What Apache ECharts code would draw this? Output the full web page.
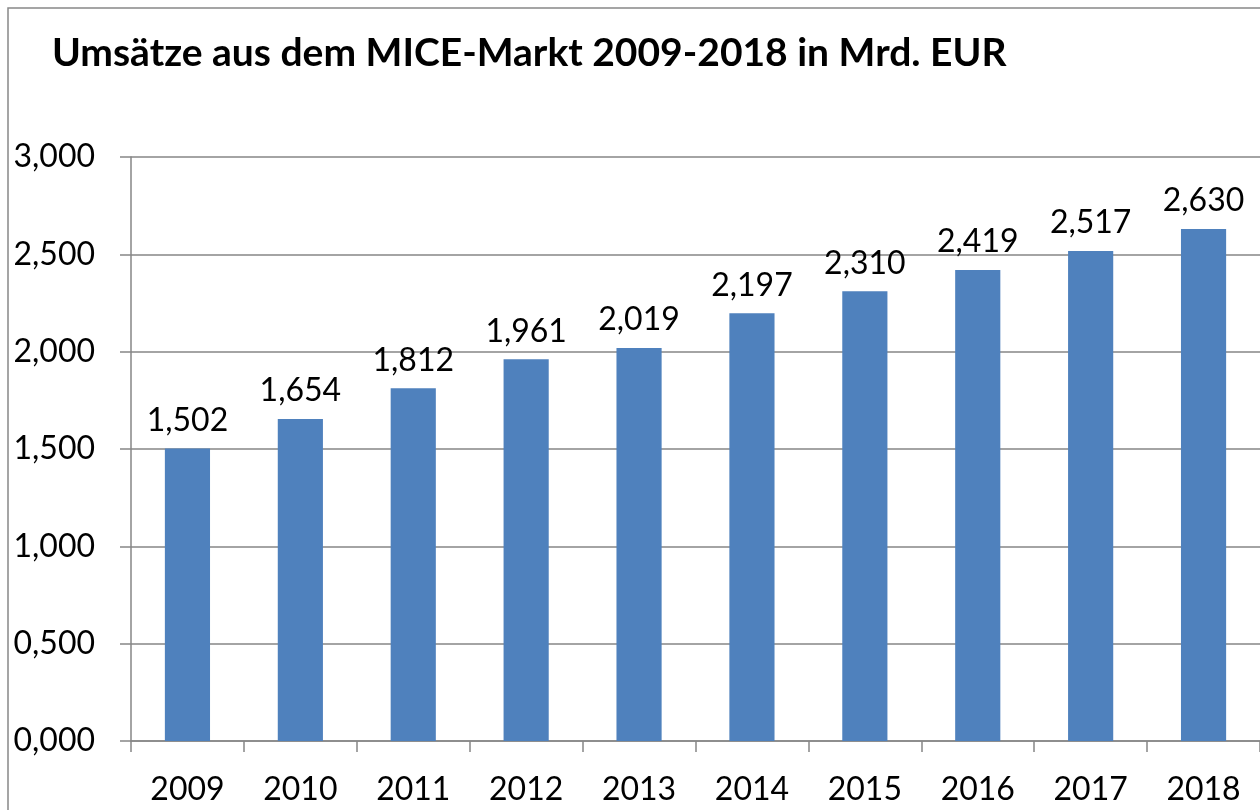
<!DOCTYPE html>
<html>
<head>
<meta charset="utf-8">
<title>MICE-Markt</title>
<script src="https://cdn.jsdelivr.net/npm/echarts@6/dist/echarts.min.js"></script>
<style>
  html, body { margin: 0; padding: 0; background: #fff; }
  #chart { width: 1260px; height: 810px; }
</style>
</head>
<body>
<div id="chart"></div>
<script>
// Daten: Umsätze in Mrd. EUR
var years = ['2009', '2010', '2011', '2012', '2013', '2014', '2015', '2016', '2017', '2018'];
var umsatz = [1.502, 1.654, 1.812, 1.961, 2.019, 2.197, 2.310, 2.419, 2.517, 2.630];
var yMin = 0, yMax = 3, yStep = 0.5;

// deutsches Zahlenformat, 3 Nachkommastellen
function fmt(v) {
    return Number(v).toFixed(3).replace('.', ',');
}

var font = 'Lato';
var gridColor = '#868686';

var chart = echarts.init(document.getElementById('chart'));
chart.setOption({
    backgroundColor: '#fff',
    animation: false,
    title: {
        text: 'Umsätze aus dem MICE-Markt 2009-2018 in Mrd. EUR',
        left: 47,
        top: 29,
        textStyle: {
            fontFamily: font,
            fontWeight: 'bold',
            fontSize: 39,
            color: '#000'
        }
    },
    // Rahmen des Diagramms
    graphic: [{
        type: 'rect',
        shape: { x: 8, y: 8, width: 1300, height: 900 },
        style: { fill: 'none', stroke: '#888', lineWidth: 1.5 },
        silent: true
    }],
    grid: {
        left: 131,
        right: -2,
        top: 157,
        bottom: 69
    },
    xAxis: {
        type: 'category',
        data: years,
        axisLine: { lineStyle: { color: gridColor, width: 1.5 } },
        axisTick: { show: true, length: 11, lineStyle: { color: gridColor, width: 1.5 } },
        axisLabel: {
            margin: 33,
            fontFamily: font,
            fontSize: 32,
            color: '#000'
        }
    },
    yAxis: {
        type: 'value',
        min: yMin,
        max: yMax,
        interval: yStep,
        axisLine: { show: true, lineStyle: { color: gridColor, width: 1.5 } },
        axisTick: { show: true, length: 11, lineStyle: { color: gridColor, width: 1.5 } },
        splitLine: { lineStyle: { color: gridColor, width: 1.5 } },
        axisLabel: {
            margin: 36,
            fontFamily: font,
            fontSize: 32,
            color: '#000',
            formatter: fmt
        }
    },
    series: [{
        name: 'Umsatz',
        type: 'bar',
        data: umsatz,
        barWidth: '40%',
        itemStyle: { color: '#4F81BD' },
        label: {
            show: true,
            position: 'top',
            distance: 12,
            fontFamily: font,
            fontSize: 32,
            color: '#000',
            formatter: function (p) { return fmt(p.value); }
        }
    }]
});
</script>
</body>
</html>
